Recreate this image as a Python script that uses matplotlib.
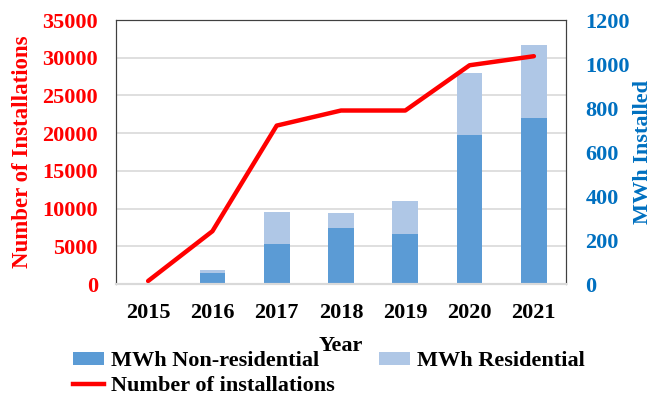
import matplotlib

matplotlib.use("Agg")

import matplotlib.pyplot as plt
import numpy as np
from matplotlib.lines import Line2D
from matplotlib.patches import Patch

# data
years = ["2015", "2016", "2017", "2018", "2019", "2020", "2021"]
installations = [400, 7000, 21000, 23000, 23000, 29000, 30200]
mwh_non_residential = [2, 52, 182, 256, 227, 677, 753]
mwh_residential = [3, 12, 145, 67, 150, 282, 335]

RED = "#FF0000"
DARK_BLUE = "#5B9BD5"
LIGHT_BLUE = "#AFC7E6"
AXIS_BLUE = "#0070C0"
GRID = "#D9D9D9"
FS = 16

plt.rcParams["font.family"] = ["Liberation Serif", "DejaVu Serif"]
plt.rcParams["font.weight"] = "bold"

fig = plt.figure(figsize=(6.53, 4.0), dpi=100)
rect = [0.1776, 0.29, 0.6892, 0.66]

# back axes only carries the horizontal grid, behind the bars
ax_back = fig.add_axes(rect, zorder=0)
ax_back.set_xlim(-0.5, len(years) - 0.5)
ax_back.set_ylim(0, 35000)
ax_back.set_yticks(np.arange(0, 35001, 5000))
ax_back.yaxis.grid(True, color=GRID, linewidth=1.2)
ax_back.tick_params(left=False, bottom=False, labelleft=False, labelbottom=False)
for s in ax_back.spines.values():
    s.set_visible(False)

ax = fig.add_axes(rect, zorder=2)
ax.patch.set_visible(False)
ax2 = ax.twinx()
ax2.set_zorder(1)
ax2.patch.set_visible(False)

x = np.arange(len(years))

ax2.bar(x, mwh_non_residential, width=0.4, color=DARK_BLUE)
ax2.bar(x, mwh_residential, width=0.4, bottom=mwh_non_residential, color=LIGHT_BLUE)
ax2.set_ylim(0, 1200)
ax2.set_yticks(np.arange(0, 1201, 200))

ax.plot(x, installations, color=RED, linewidth=3.2, solid_capstyle="round")
ax.set_ylim(0, 35000)
ax.set_yticks(np.arange(0, 35001, 5000))
ax.set_xlim(-0.5, len(years) - 0.5)
ax.set_xticks(x)
ax.set_xticklabels(years)

ax.tick_params(axis="y", colors=RED, labelsize=FS, length=0, pad=13)
ax.tick_params(axis="x", colors="black", labelsize=FS, length=0, pad=14)
ax2.tick_params(axis="y", colors=AXIS_BLUE, labelsize=FS, length=0, pad=14)
for lab in ax.get_yticklabels() + ax.get_xticklabels() + ax2.get_yticklabels():
    lab.set_fontweight("bold")

ax.set_ylabel("Number of Installations", color=RED, fontsize=16.5, fontweight="bold", labelpad=7)
ax2.set_ylabel("MWh Installed", color=AXIS_BLUE, fontsize=FS, fontweight="bold", labelpad=2)
ax.set_xlabel("Year", fontsize=FS, fontweight="bold", labelpad=9)

for a in (ax, ax2):
    a.spines["left"].set_color("#404040")
    a.spines["top"].set_color("#404040")
    a.spines["right"].set_color("#404040")
    a.spines["bottom"].set_color(GRID)
    a.spines["bottom"].set_linewidth(1.5)

handles = [
    Patch(facecolor=DARK_BLUE, edgecolor="none", label="MWh Non-residential"),
    Line2D([0], [0], color=RED, linewidth=3.2, label="Number of installations"),
    Patch(facecolor=LIGHT_BLUE, edgecolor="none", label="MWh Residential"),
]
fig.legend(
    handles=handles,
    loc="upper left",
    bbox_to_anchor=(0.112, 0.122),
    ncol=2,
    frameon=False,
    fontsize=FS,
    handlelength=1.4,
    handleheight=0.5,
    handletextpad=0.3,
    columnspacing=2.0,
    labelspacing=0.2,
    borderaxespad=0,
    borderpad=0,
)

fig.savefig("out.png", dpi=100)
